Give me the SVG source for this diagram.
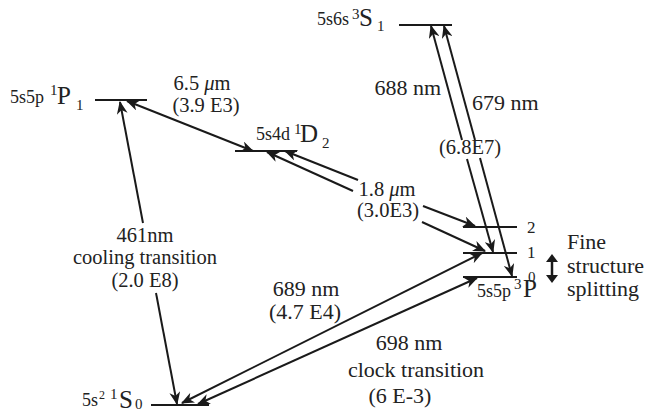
<svg xmlns="http://www.w3.org/2000/svg" width="646" height="413" viewBox="0 0 646 413">
<style>
text{font-family:"Liberation Serif","Times New Roman",serif;fill:#222}
.t{font-size:20.5px}
.u{font-size:22px}
.c{text-anchor:middle}
.lv{font-size:18px}
.big{font-size:25px}
.sp{font-size:15px}
.n{font-size:17px}
.lvl{stroke:#1a1a1a;stroke-width:2;fill:none}
.ar{stroke:#1a1a1a;stroke-width:2;fill:none;marker-end:url(#ah)}
.ar2{stroke:#1a1a1a;stroke-width:2;fill:none;marker-start:url(#ah);marker-end:url(#ah)}
</style>
<defs>
<marker id="ah" viewBox="0 0 12 10" refX="11" refY="5" markerWidth="13" markerHeight="11" markerUnits="userSpaceOnUse" orient="auto-start-reverse">
<path d="M0,0 L12,5 L0,10 L3.5,5 z" fill="#1a1a1a"/>
</marker>
</defs>

<g id="level-1P1">
<line class="lvl" x1="95" y1="100" x2="147" y2="100"/>
<text class="lv" x="10" y="103">5s5p</text>
<text class="sp" x="50" y="95">1</text>
<text class="big" x="57" y="104">P</text>
<text class="sp" x="76" y="110">1</text>
</g>

<g id="level-1D2">
<line class="lvl" x1="235" y1="151" x2="297" y2="151"/>
<text class="lv" x="256" y="140">5s4d</text>
<text class="sp" x="294" y="134">1</text>
<text class="big" x="300" y="142">D</text>
<text class="sp" x="322" y="148">2</text>
</g>

<g id="level-3S1">
<line class="lvl" x1="399" y1="25" x2="452" y2="25"/>
<text class="lv" x="317" y="25">5s6s</text>
<text class="sp" x="352" y="19">3</text>
<text class="big" x="359" y="26">S</text>
<text class="sp" x="377" y="31">1</text>
</g>

<g id="level-3P">
<line class="lvl" x1="463" y1="227" x2="517" y2="227"/>
<line class="lvl" x1="463" y1="253" x2="517" y2="253"/>
<line class="lvl" x1="463" y1="277" x2="517" y2="277"/>
<text class="n" x="527" y="233">2</text>
<text class="n" x="527" y="258">1</text>
<text style="font-size:15px" x="528" y="282">0</text>
<text class="lv" x="477" y="297">5s5p</text>
<text class="sp" x="514" y="289">3</text>
<text class="big" x="523" y="297">P</text>
</g>

<g id="level-1S0">
<line class="lvl" x1="151" y1="405" x2="209" y2="405"/>
<text class="lv" x="82" y="406">5s</text>
<text style="font-size:12px" x="99" y="399">2</text>
<text class="sp" x="110" y="399">1</text>
<text class="big" x="119" y="408">S</text>
<text class="sp" x="135" y="409">0</text>
</g>

<g id="connectors">
<!-- 461 nm -->
<path class="ar" d="M143,223 L120,102"/>
<path class="ar" d="M156,293 L177,404"/>
<!-- 6.5 um -->
<path class="ar2" d="M127,101 L253,151"/>
<!-- 1.8 um upper (1D2 - 3P2) -->
<path class="ar" d="M358,180 L285,151"/>
<path class="ar" d="M423,206 L475,226"/>
<!-- 1.8 um lower (1D2 - 3P1) -->
<path class="ar" d="M353,191 L267,152"/>
<path class="ar" d="M422,222 L485,251"/>
<!-- 688 nm (3S1 - 3P1) -->
<path class="ar" d="M462,140 L431,26"/>
<path class="ar" d="M467,159 L493,252"/>
<!-- 679 nm (3S1 - 3P0) -->
<path class="ar" d="M475,140 L444,26"/>
<path class="ar" d="M480,158 L512,276"/>
<!-- 689 nm -->
<path class="ar2" d="M182,403 L482,253"/>
<!-- 698 nm -->
<path class="ar2" d="M198,404 L477,278"/>
</g>

<g id="labels">
<text class="t c" x="202" y="90">6.5 <tspan font-style="italic">μ</tspan>m</text>
<text class="t c" x="206" y="112">(3.9 E3)</text>
<text class="t c" x="387" y="196">1.8 <tspan font-style="italic">μ</tspan>m</text>
<text class="t c" x="388" y="217">(3.0E3)</text>
<text class="u" x="441" y="95" text-anchor="end">688 nm</text>
<text class="u" x="472" y="110">679 nm</text>
<text class="t c" x="470" y="154">(6.8E7)</text>
<text class="t c" x="145" y="242">461nm</text>
<text class="t c" x="145" y="264">cooling transition</text>
<text class="t c" x="145" y="287">(2.0 E8)</text>
<text class="u c" x="306" y="296">689 nm</text>
<text class="u c" x="305" y="319">(4.7 E4)</text>
<text class="u c" x="409" y="350">698 nm</text>
<text class="u c" x="416" y="377">clock transition</text>
<text class="u c" x="400" y="403">(6 E-3)</text>
</g>

<g id="fine-structure">
<line x1="552" y1="260" x2="552" y2="277" stroke="#1a1a1a" stroke-width="2.5"/>
<path d="M552,254 L558,262 L546,262 z M552,283 L558,275 L546,275 z" fill="#1a1a1a"/>
<text class="u" x="567" y="249">Fine</text>
<text class="u" x="567" y="273">structure</text>
<text class="u" x="567" y="296">splitting</text>
</g>
</svg>
